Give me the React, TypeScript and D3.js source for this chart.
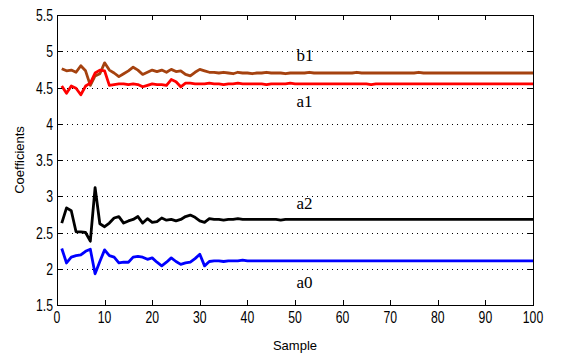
import React from "react";
import * as d3 from "d3";

const samples: number[] = d3.range(1, 101);

const b1: number[] = [
  4.76, 4.73, 4.74, 4.71, 4.80, 4.73, 4.53, 4.66, 4.69, 4.84,
  4.74, 4.70, 4.65, 4.69, 4.73, 4.78, 4.74, 4.68, 4.71, 4.74,
  4.72, 4.74, 4.71, 4.75, 4.72, 4.73, 4.68, 4.66, 4.71, 4.75,
  4.73, 4.71, 4.71, 4.70, 4.71, 4.70, 4.69, 4.71, 4.70, 4.70,
  4.69, 4.70, 4.70, 4.71, 4.70, 4.70, 4.70, 4.69, 4.70, 4.70,
  4.70, 4.70, 4.71, 4.70, 4.70, 4.70, 4.70, 4.70, 4.70, 4.70,
  4.70, 4.70, 4.71, 4.70, 4.70, 4.70, 4.70, 4.70, 4.70, 4.70,
  4.70, 4.70, 4.70, 4.70, 4.70, 4.71, 4.70, 4.70, 4.70, 4.70,
  4.70, 4.70, 4.70, 4.70, 4.70, 4.70, 4.70, 4.70, 4.70, 4.70,
  4.70, 4.70, 4.70, 4.70, 4.70, 4.70, 4.70, 4.70, 4.70, 4.70,
];

const a1: number[] = [
  4.52, 4.42, 4.52, 4.49, 4.40, 4.52, 4.56, 4.70, 4.74, 4.73,
  4.53, 4.54, 4.55, 4.55, 4.54, 4.55, 4.54, 4.51, 4.53, 4.55,
  4.54, 4.54, 4.53, 4.61, 4.58, 4.51, 4.56, 4.56, 4.55, 4.55,
  4.55, 4.56, 4.55, 4.55, 4.54, 4.55, 4.55, 4.56, 4.55, 4.55,
  4.55, 4.55, 4.55, 4.54, 4.55, 4.55, 4.55, 4.55, 4.56, 4.55,
  4.55, 4.55, 4.55, 4.55, 4.55, 4.55, 4.55, 4.55, 4.55, 4.55,
  4.55, 4.55, 4.55, 4.55, 4.55, 4.54, 4.55, 4.55, 4.55, 4.55,
  4.55, 4.55, 4.55, 4.55, 4.55, 4.55, 4.55, 4.55, 4.55, 4.55,
  4.55, 4.55, 4.55, 4.55, 4.55, 4.55, 4.55, 4.55, 4.55, 4.55,
  4.55, 4.55, 4.55, 4.55, 4.55, 4.55, 4.55, 4.55, 4.55, 4.55,
];

const a2: number[] = [
  2.63, 2.84, 2.80, 2.51, 2.51, 2.50, 2.38, 3.12, 2.62, 2.58,
  2.63, 2.70, 2.72, 2.63, 2.66, 2.68, 2.72, 2.63, 2.69, 2.64,
  2.65, 2.70, 2.67, 2.68, 2.66, 2.68, 2.72, 2.74, 2.71, 2.66,
  2.64, 2.69, 2.68, 2.68, 2.67, 2.68, 2.68, 2.69, 2.68, 2.68,
  2.68, 2.68, 2.68, 2.68, 2.68, 2.68, 2.67, 2.68, 2.68, 2.68,
  2.68, 2.68, 2.68, 2.68, 2.68, 2.68, 2.68, 2.68, 2.68, 2.68,
  2.68, 2.68, 2.68, 2.68, 2.68, 2.68, 2.68, 2.68, 2.68, 2.68,
  2.68, 2.68, 2.68, 2.68, 2.68, 2.68, 2.68, 2.68, 2.68, 2.68,
  2.68, 2.68, 2.68, 2.68, 2.68, 2.68, 2.68, 2.68, 2.68, 2.68,
  2.68, 2.68, 2.68, 2.68, 2.68, 2.68, 2.68, 2.68, 2.68, 2.68,
];

const a0: number[] = [
  2.28, 2.08, 2.16, 2.18, 2.19, 2.24, 2.27, 1.93, 2.10, 2.26,
  2.18, 2.16, 2.08, 2.09, 2.09, 2.16, 2.17, 2.16, 2.13, 2.15,
  2.09, 2.04, 2.09, 2.15, 2.10, 2.06, 2.08, 2.09, 2.14, 2.20,
  2.04, 2.10, 2.11, 2.11, 2.10, 2.11, 2.11, 2.11, 2.12, 2.11,
  2.11, 2.11, 2.11, 2.11, 2.11, 2.11, 2.11, 2.11, 2.11, 2.11,
  2.11, 2.11, 2.11, 2.11, 2.11, 2.11, 2.11, 2.11, 2.11, 2.11,
  2.11, 2.11, 2.11, 2.11, 2.11, 2.11, 2.11, 2.11, 2.11, 2.11,
  2.11, 2.11, 2.11, 2.11, 2.11, 2.11, 2.11, 2.11, 2.11, 2.11,
  2.11, 2.11, 2.11, 2.11, 2.11, 2.11, 2.11, 2.11, 2.11, 2.11,
  2.11, 2.11, 2.11, 2.11, 2.11, 2.11, 2.11, 2.11, 2.11, 2.11,
];

const xTicks: number[] = [0, 10, 20, 30, 40, 50, 60, 70, 80, 90, 100];
const yTicks: number[] = [1.5, 2, 2.5, 3, 3.5, 4, 4.5, 5, 5.5];
const yTickLabels: string[] = ["1.5", "2", "2.5", "3", "3.5", "4", "4.5", "5", "5.5"];

const seriesNames: string[] = ["b1", "a1", "a2", "a0"];
const seriesColors: string[] = ["#a5420f", "#ff0000", "#000000", "#0000ff"];
const labelValues: number[] = [4.87, 4.23, 2.82, 1.73];

const W = 579;
const H = 356;
const M = { left: 57, right: 46, top: 15, bottom: 51 };

export default function App() {
  const x = d3.scaleLinear().domain([0, 100]).range([M.left, W - M.right]);
  const y = d3.scaleLinear().domain([1.5, 5.5]).range([H - M.bottom, M.top]);
  const line = d3
    .line<[number, number]>()
    .x((d) => x(d[0]))
    .y((d) => y(d[1]));
  const allSeries = [b1, a1, a2, a0];
  const left = x(0);
  const right = x(100);
  const top = y(5.5);
  const bottom = y(1.5);
  const tl = 5;
  const sansFont = "'Liberation Sans', Arial, sans-serif";

  return (
    <div style={{ position: "absolute", left: 0, top: 0 }}>
      <svg width={W} height={H} style={{ display: "block", background: "#fff" }}>
        {yTicks
          .filter((t) => t > 1.5 && t < 5.5)
          .map((t) => (
            <line
              key={"g" + t}
              x1={left}
              x2={right}
              y1={Math.round(y(t)) + 0.5}
              y2={Math.round(y(t)) + 0.5}
              stroke="#000"
              strokeWidth={1}
              strokeDasharray="1,4"
            />
          ))}
        {allSeries.map((s, i) => (
          <path
            key={seriesNames[i]}
            d={line(samples.map((k, j) => [k, s[j]] as [number, number])) || ""}
            fill="none"
            stroke={seriesColors[i]}
            strokeWidth={2.8}
            strokeLinejoin="round"
          />
        ))}
        <rect
          x={Math.round(left) + 0.5}
          y={Math.round(top) + 0.5}
          width={Math.round(right) - Math.round(left)}
          height={Math.round(bottom) - Math.round(top)}
          fill="none"
          stroke="#000"
          strokeWidth={1}
        />
        {xTicks.map((t) => {
          const px = Math.round(x(t)) + 0.5;
          return (
            <g key={"xt" + t}>
              <line x1={px} x2={px} y1={bottom} y2={bottom - tl} stroke="#000" />
              <line x1={px} x2={px} y1={top} y2={top + tl} stroke="#000" />
              <text
                transform={`translate(${x(t)},${bottom + 18}) scale(0.72,1)`}
                textAnchor="middle"
                fontFamily={sansFont}
                fontSize={17}
                fill="#000"
              >
                {t}
              </text>
            </g>
          );
        })}
        {yTicks.map((t, i) => {
          const py = Math.round(y(t)) + 0.5;
          return (
            <g key={"yt" + t}>
              <line x1={left} x2={left + tl} y1={py} y2={py} stroke="#000" />
              <line x1={right} x2={right - tl} y1={py} y2={py} stroke="#000" />
              <text
                transform={`translate(${left - 4},${y(t) + 6}) scale(0.72,1)`}
                textAnchor="end"
                fontFamily={sansFont}
                fontSize={17}
                fill="#000"
              >
                {yTickLabels[i]}
              </text>
            </g>
          );
        })}
        <text
          x={(left + right) / 2}
          y={H - 6}
          textAnchor="middle"
          fontFamily={sansFont}
          fontSize={13}
          fill="#000"
        >
          Sample
        </text>
        <text
          transform={`translate(24,${(top + bottom) / 2}) rotate(-90)`}
          textAnchor="middle"
          fontFamily={sansFont}
          fontSize={13}
          fill="#000"
        >
          Coefficients
        </text>
        {seriesNames.map((n, i) => (
          <text
            key={"lbl" + n}
            x={x(50.3)}
            y={y(labelValues[i])}
            fontFamily="'Liberation Serif', 'Times New Roman', serif"
            fontSize={17}
            fill="#000"
          >
            {n}
          </text>
        ))}
      </svg>
    </div>
  );
}
